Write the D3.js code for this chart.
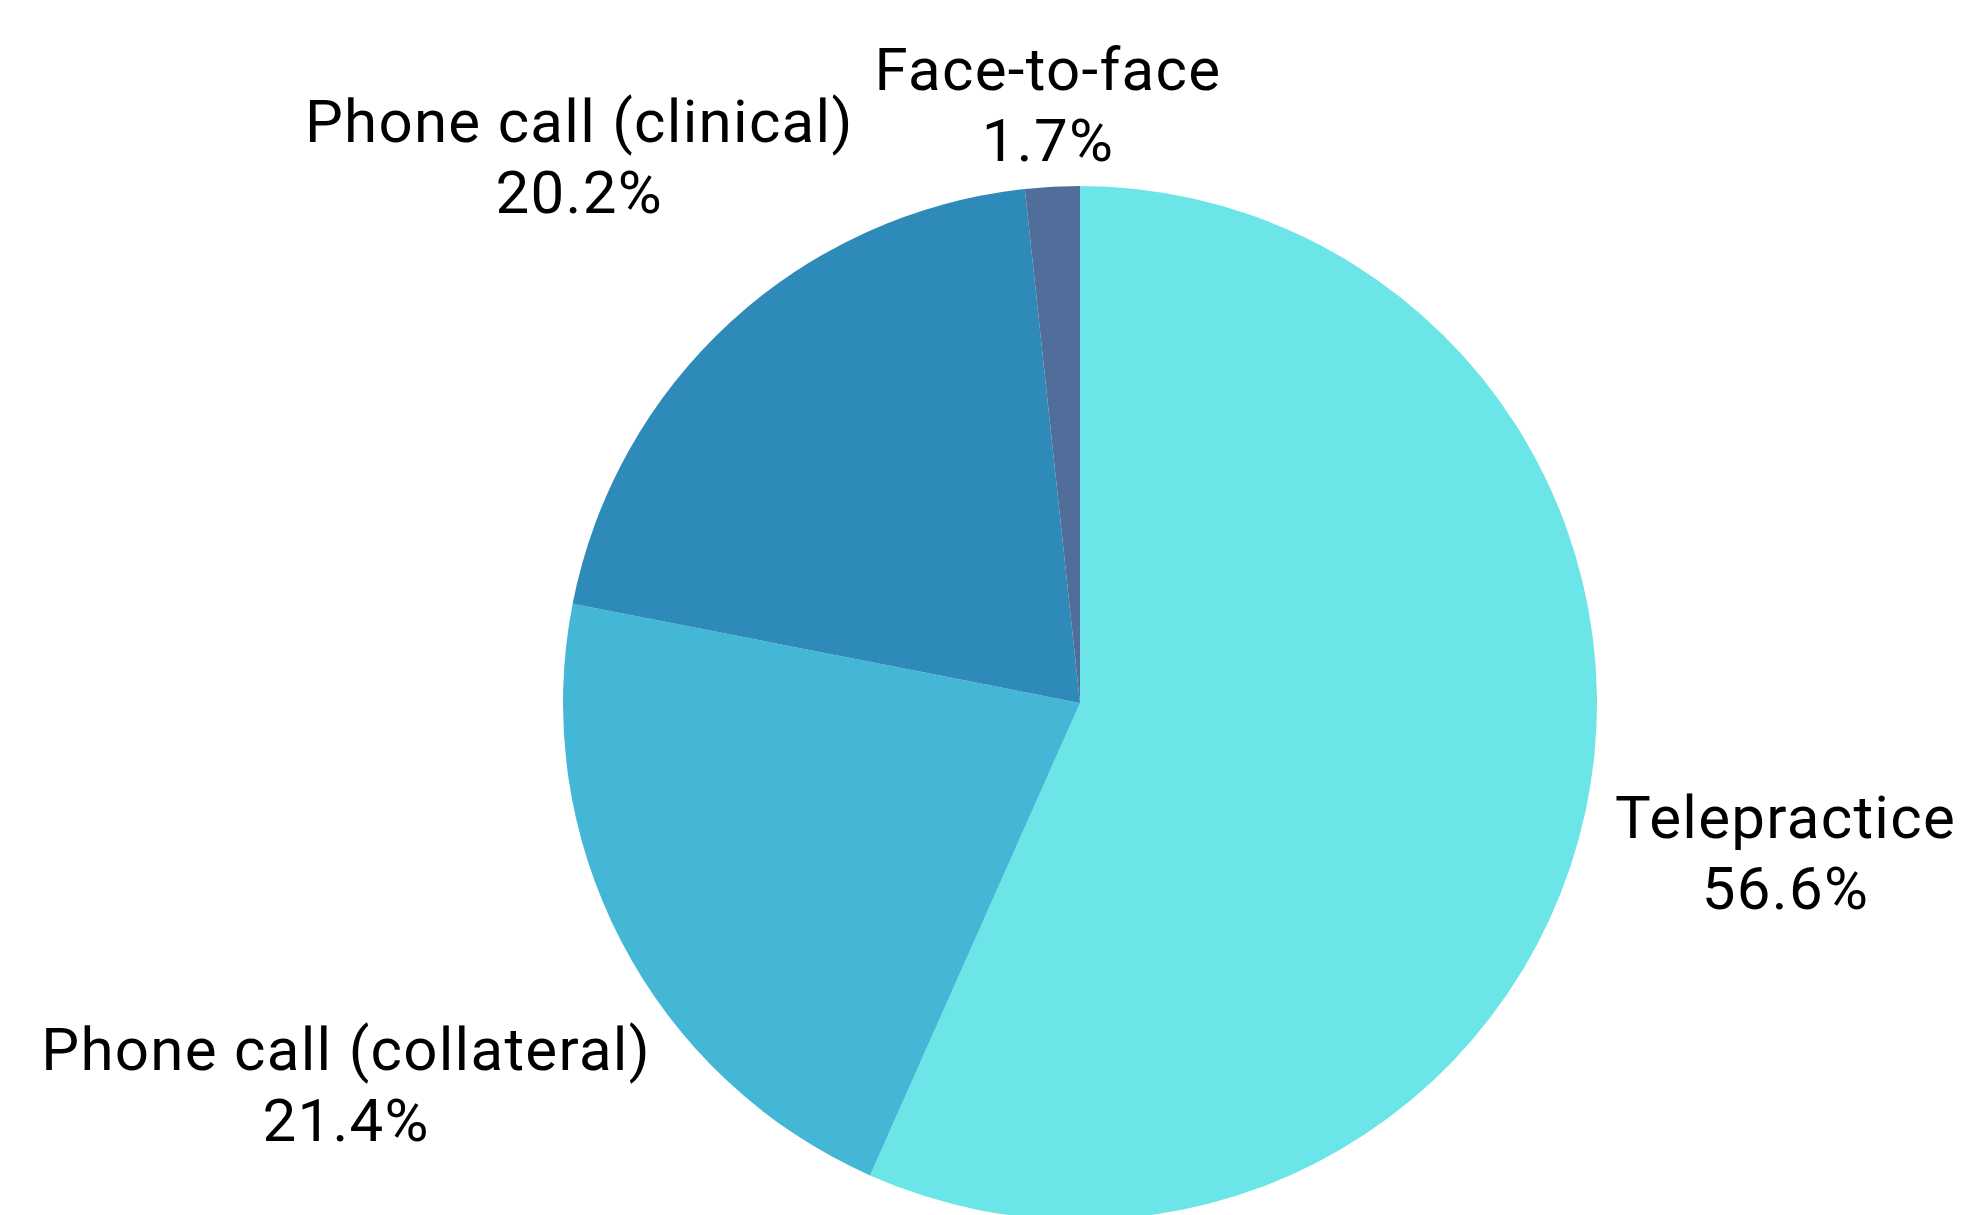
<!DOCTYPE html>
<html>
<head>
<meta charset="utf-8">
<script src="https://cdn.jsdelivr.net/npm/d3@7"></script>
<style>
  body { margin: 0; background: #fff; }
  svg { display: block; }
</style>
</head>
<body>
<div class="workspace"></div>
<script>
const categories = ['Telepractice', 'Phone call (collateral)', 'Phone call (clinical)', 'Face-to-face'];
const shares = [56.6, 21.4, 20.2, 1.7];
const sliceColors = ['#6ce5e8', '#43b7d5', '#2e8ab8', '#506e99'];
// how far out each label sits, as a multiple of the radius
const labelReach = [1.395, 1.6, 1.433, 1.16];

const width = 1963;
const height = 1215;
const cx = 1080;
const cy = 703;
const radius = 517;
const fontSize = 60;
const lineGap = 71;
const capHeight = 42;

const svg = d3
  .select('.workspace')
  .append('svg')
  .attr('width', width)
  .attr('height', height);

const pie = d3.pie().sort(null).value(function (d) {
  return d;
});
const arcs = pie(shares);

const arc = d3.arc().innerRadius(0).outerRadius(radius);

const g = svg.append('g').attr('transform', `translate(${cx},${cy})`);

g.selectAll('path')
  .data(arcs)
  .enter()
  .append('path')
  .attr('d', arc)
  .style('fill', function (d, i) {
    return sliceColors[i];
  });

// labels sit on the ray through each slice's middle
const labels = g
  .selectAll('text')
  .data(arcs)
  .enter()
  .append('text')
  .attr('text-anchor', 'middle')
  .style('font-family', 'Roboto, "Liberation Sans", sans-serif')
  .style('font-size', `${fontSize}px`)
  .style('letter-spacing', '1.3px')
  .style('fill', '#000')
  .attr('transform', function (d, i) {
    const a = (d.startAngle + d.endAngle) / 2;
    const r = radius * labelReach[i];
    const x = Math.sin(a) * r;
    const y = -Math.cos(a) * r - (lineGap - capHeight) / 2;
    return `translate(${x},${y})`;
  });

labels
  .append('tspan')
  .attr('x', 0)
  .attr('y', 0)
  .text(function (d, i) {
    return categories[i];
  });

labels
  .append('tspan')
  .attr('x', 0)
  .attr('y', lineGap)
  .text(function (d) {
    return `${d.data.toFixed(1)}%`;
  });
</script>
</body>
</html>
